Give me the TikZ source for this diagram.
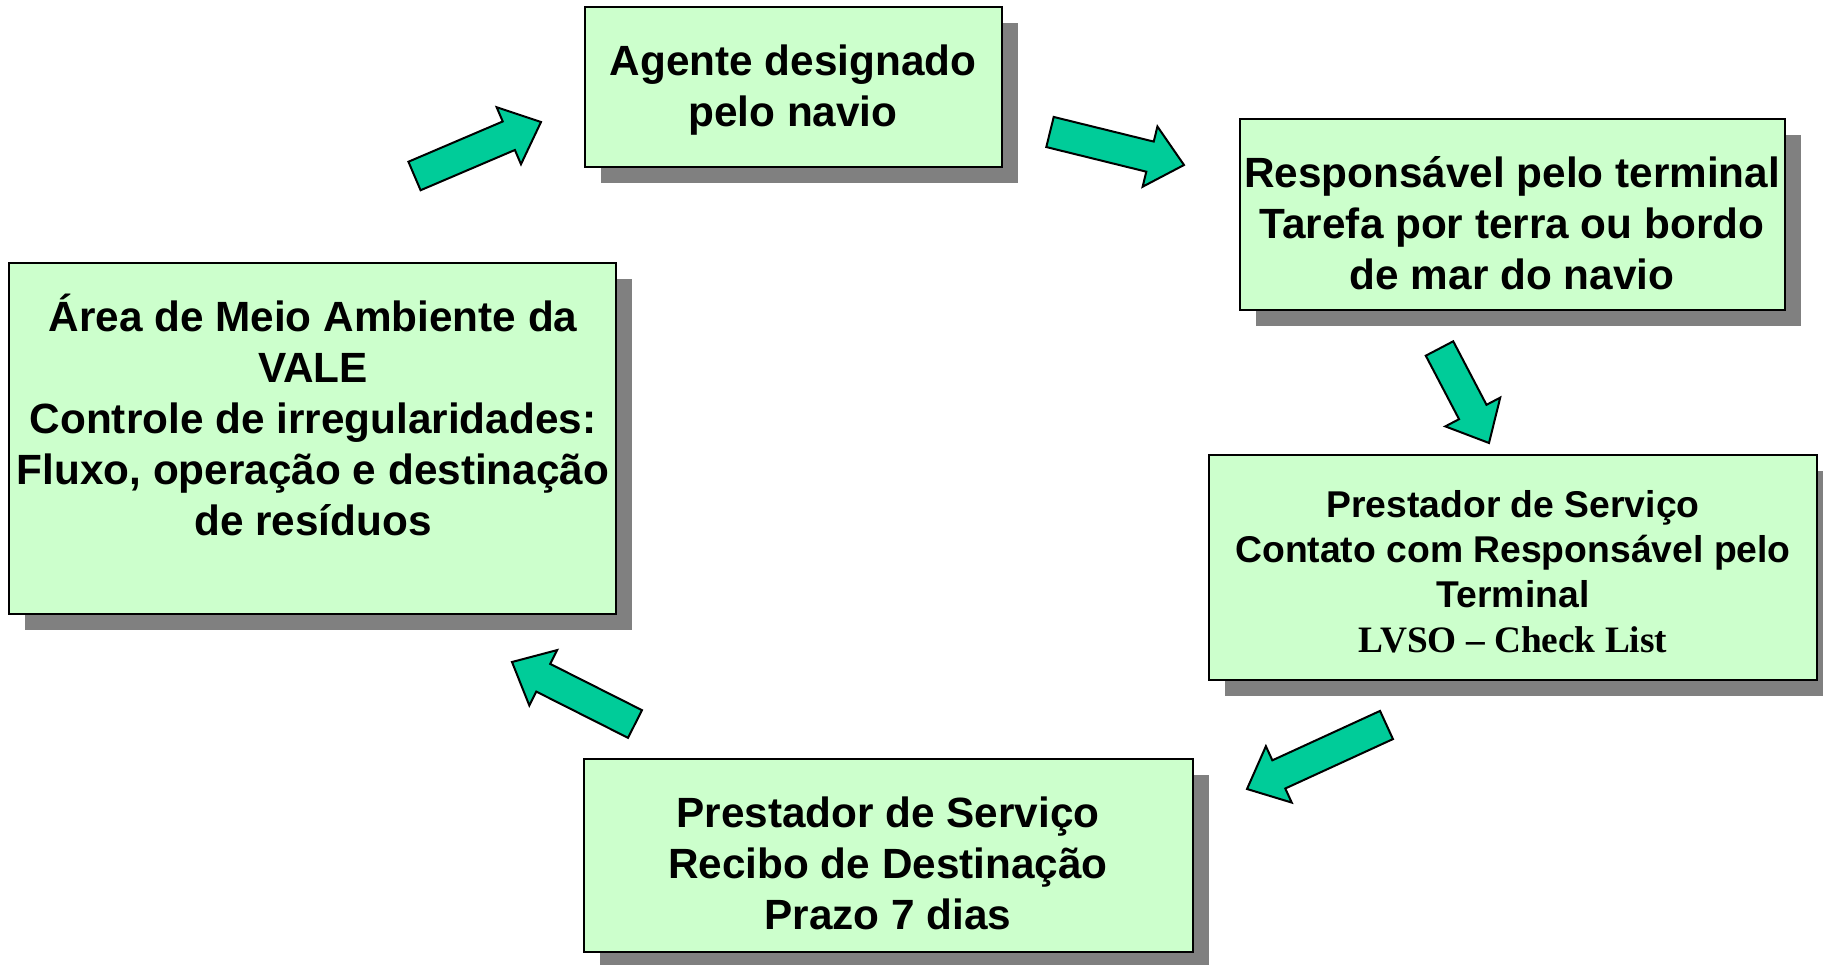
\documentclass[tikz,border=0pt]{standalone}
\usepackage{fontspec}
\setmainfont{Liberation Sans}
\newfontfamily\timesf{Liberation Serif}
\usetikzlibrary{calc}
\definecolor{boxfill}{HTML}{CCFFCC}
\definecolor{arrfill}{HTML}{00CC99}
\definecolor{shadowgray}{HTML}{808080}
\tikzset{
 box/.style={draw=black, line width=2.5pt, fill=boxfill, inner sep=0pt, outer sep=0pt, anchor=north west},
 shadowbox/.style={fill=shadowgray, draw=none},
 bigtxt/.style={font=\fontsize{42.3}{51}\selectfont\bfseries, align=center, inner sep=0pt},
 midtxt/.style={font=\fontsize{37.3}{45}\selectfont\bfseries, align=center, inner sep=0pt},
 blockarrow/.style={draw=black, line width=2pt, fill=arrfill, line join=miter},
}
\newcommand{\blockarr}[3]{%
 \coordinate (#1t) at #2; \coordinate (#1p) at #3;
 \coordinate (#1j) at ($(#1p)!35pt!(#1t)$);
 \draw[blockarrow] ($(#1t)!15.5pt!90:(#1p)$) -- ($(#1j)!15.5pt!90:(#1p)$) -- ($(#1j)!31pt!90:(#1p)$) -- (#1p) -- ($(#1j)!31pt!-90:(#1p)$) -- ($(#1j)!15.5pt!-90:(#1p)$) -- ($(#1t)!15.5pt!-90:(#1p)$) -- cycle;}
\newcommand{\shadowof}[1]{\fill[shadowbox] ($(#1.south west)+(16,16)$) rectangle ($(#1.north east)+(16,16)$);}
\begin{document}
\begin{tikzpicture}[x=1pt, y=-1pt]
\useasboundingbox[fill=white] (0,0) rectangle (1823,965);
% boxes (invisible placeholders first for shadow positions)
\path (585,7) node[box, draw=none, fill=none, minimum width=417, minimum height=160] (agenteS) {};
\path (1240,119) node[box, draw=none, fill=none, minimum width=545, minimum height=191] (respS) {};
\path (1209,455) node[box, draw=none, fill=none, minimum width=608, minimum height=225] (prestS) {};
\path (584,759) node[box, draw=none, fill=none, minimum width=609, minimum height=193] (prestbS) {};
\path (9,263) node[box, draw=none, fill=none, minimum width=607, minimum height=351] (areaS) {};
\shadowof{agenteS}
\shadowof{respS}
\shadowof{prestS}
\shadowof{prestbS}
\shadowof{areaS}
\node[box, minimum width=417, minimum height=160] (agente) at (585,7) {};
\node[box, minimum width=545, minimum height=191] (resp) at (1240,119) {};
\node[box, minimum width=608, minimum height=225] (prest) at (1209,455) {};
\node[box, minimum width=609, minimum height=193] (prestb) at (584,759) {};
\node[box, minimum width=607, minimum height=351] (area) at (9,263) {};
% texts
\node[bigtxt] (agenteT) at (793,90) {Agente designado\\pelo navio};
\node[bigtxt] (respT) at (1512,223) {Responsável pelo terminal\\Tarefa por terra ou bordo\\de mar do navio};
\node[midtxt] (prestT) at (1513,572) {Prestador de Serviço\\Contato com Responsável pelo\\Terminal\\{\timesf\bfseries LVSO – Check List}};
\node[bigtxt] (prestbT) at (888,863) {Prestador de Serviço\\Recibo de Destinação\\Prazo 7 dias};
\node[bigtxt] (areaT) at (313,415) {Área de Meio Ambiente da\\VALE\\Controle de irregularidades:\\Fluxo, operação e destinação\\de resíduos};
% block arrows
\blockarr{a1}{(414.5,176)}{(541,122)}
\blockarr{a2}{(1050,132)}{(1184,165)}
\blockarr{a3}{(1439.5,348.5)}{(1489,443)}
\blockarr{a4}{(1386.5,725)}{(1247,789)}
\blockarr{a5}{(635,724)}{(512,662)}
\end{tikzpicture}
\end{document}
